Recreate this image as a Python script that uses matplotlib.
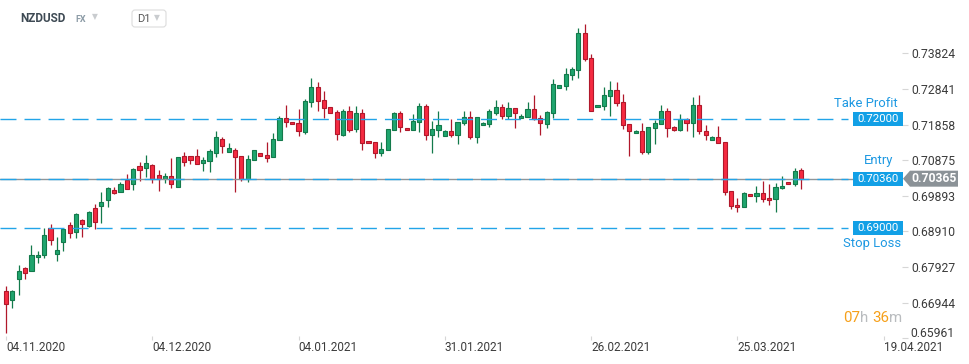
import matplotlib
matplotlib.use('Agg')
import matplotlib.pyplot as plt
import matplotlib.transforms as mtransforms
from matplotlib.patches import Polygon, FancyBboxPatch, Rectangle
import numpy as np

plt.rcParams['font.family'] = ['Roboto', 'DejaVu Sans']
plt.rcParams['lines.scale_dashes'] = False

# ---------------- data ----------------
symbol = 'NZDUSD'
market = 'FX'
timeframe = 'D1'

opens = [0.67258, 0.67010, 0.67605, 0.67901, 0.67810, 0.68196, 0.68251, 0.68996, 0.68295, 0.68626,
         0.69079, 0.68886, 0.69225, 0.69068, 0.69556, 0.69603, 0.69768, 0.70044, 0.69989, 0.70320,
         0.70210, 0.70706, 0.70651, 0.70734, 0.70458, 0.70348, 0.70431, 0.70127, 0.70982, 0.70982,
         0.70982, 0.70789, 0.70844, 0.71065, 0.71451, 0.71093, 0.71148, 0.70982, 0.70348, 0.70880,
         0.71082, 0.71010, 0.70955, 0.71424, 0.72031, 0.71920, 0.71893, 0.71661, 0.72472, 0.72886,
         0.72527, 0.72334, 0.72205, 0.71578, 0.72224, 0.71727, 0.72169, 0.71396, 0.71369, 0.71065,
         0.71148, 0.71700, 0.72169, 0.71755, 0.71700, 0.71920, 0.72362, 0.71562, 0.71700, 0.71534,
         0.71672, 0.71562, 0.71893, 0.72058, 0.71507, 0.71838, 0.71865, 0.72169, 0.72334, 0.72086,
         0.72307, 0.72031, 0.72058, 0.72279, 0.72031, 0.71865, 0.72169, 0.72858, 0.72914, 0.73217,
         0.73355, 0.74376, 0.73686, 0.72334, 0.72362, 0.72638, 0.72803, 0.72472, 0.71865, 0.71617,
         0.71672, 0.71093, 0.71755, 0.71865, 0.72224, 0.71782, 0.71700, 0.72003, 0.71893, 0.72389,
         0.71672, 0.71424, 0.71507, 0.71369, 0.70017, 0.69631, 0.69575, 0.69934, 0.69879, 0.69962,
         0.69824, 0.69796, 0.70100, 0.70265, 0.70210, 0.70596]
highs = [0.67404, 0.67294, 0.67975, 0.67937, 0.68527, 0.68361, 0.69004, 0.69115, 0.68756, 0.68990,
         0.69170, 0.69418, 0.69253, 0.69473, 0.69666, 0.69997, 0.70127, 0.70127, 0.70273, 0.70494,
         0.70660, 0.70817, 0.71018, 0.70770, 0.70604, 0.70513, 0.70935, 0.70955, 0.71101, 0.70982,
         0.71184, 0.70955, 0.71175, 0.71680, 0.71515, 0.71341, 0.71203, 0.70982, 0.71018, 0.71148,
         0.71082, 0.71377, 0.71617, 0.72094, 0.72398, 0.71920, 0.72287, 0.72555, 0.73134, 0.73024,
         0.72784, 0.72334, 0.72260, 0.72287, 0.72370, 0.72370, 0.72287, 0.71396, 0.71369, 0.71369,
         0.71727, 0.72196, 0.72232, 0.71755, 0.72141, 0.72445, 0.72417, 0.71948, 0.72224, 0.71700,
         0.72003, 0.71920, 0.72224, 0.72224, 0.72058, 0.71920, 0.72279, 0.72536, 0.72417, 0.72472,
         0.72307, 0.72141, 0.72472, 0.72665, 0.72114, 0.72224, 0.73107, 0.72941, 0.73410, 0.73438,
         0.74514, 0.74624, 0.73796, 0.72389, 0.72886, 0.73052, 0.73024, 0.72693, 0.71865, 0.71700,
         0.71893, 0.71782, 0.71984, 0.72398, 0.72307, 0.71810, 0.72141, 0.72031, 0.72618, 0.72674,
         0.71838, 0.71534, 0.71810, 0.71369, 0.70017, 0.69824, 0.69989, 0.69934, 0.70155, 0.70293,
         0.70210, 0.70237, 0.70431, 0.70265, 0.70651, 0.70651]
lows = [0.66116, 0.66789, 0.67164, 0.67589, 0.67810, 0.68047, 0.68177, 0.68544, 0.68102, 0.68370,
        0.68728, 0.68737, 0.68756, 0.69032, 0.68968, 0.69150, 0.69592, 0.69934, 0.69989, 0.70072,
        0.70061, 0.70309, 0.70420, 0.70254, 0.70033, 0.70237, 0.70100, 0.70127, 0.70723, 0.70778,
        0.70762, 0.70585, 0.70541, 0.70971, 0.71082, 0.71093, 0.70006, 0.70293, 0.70282, 0.70880,
        0.70982, 0.70833, 0.70955, 0.71424, 0.71799, 0.71865, 0.71534, 0.71606, 0.72351, 0.72240,
        0.72047, 0.72169, 0.71432, 0.71551, 0.71661, 0.71661, 0.71164, 0.71341, 0.70944, 0.70999,
        0.71148, 0.71700, 0.71661, 0.71700, 0.71700, 0.71661, 0.71440, 0.71065, 0.71507, 0.71534,
        0.71523, 0.71330, 0.71838, 0.71451, 0.71358, 0.71838, 0.71782, 0.72114, 0.72003, 0.72003,
        0.71755, 0.72031, 0.72058, 0.71976, 0.71562, 0.71755, 0.72031, 0.72858, 0.72803, 0.73079,
        0.73134, 0.73603, 0.72224, 0.72334, 0.72251, 0.72086, 0.72362, 0.71727, 0.70982, 0.71617,
        0.71038, 0.71038, 0.71313, 0.71865, 0.71507, 0.71672, 0.71672, 0.71672, 0.71507, 0.71589,
        0.71424, 0.71424, 0.71341, 0.69906, 0.69537, 0.69437, 0.69575, 0.69879, 0.69713, 0.69713,
        0.69631, 0.69437, 0.70072, 0.70210, 0.70155, 0.70072]
closes = [0.66899, 0.67266, 0.67810, 0.67754, 0.68251, 0.68251, 0.68803, 0.68665, 0.68389, 0.68968,
          0.68875, 0.69391, 0.69123, 0.69446, 0.69161, 0.69722, 0.70100, 0.69978, 0.70210, 0.70072,
          0.70624, 0.70596, 0.70789, 0.70364, 0.70356, 0.70431, 0.70210, 0.70955, 0.70817, 0.70872,
          0.70762, 0.70880, 0.71120, 0.71507, 0.71258, 0.71203, 0.70955, 0.70364, 0.70900, 0.71148,
          0.70982, 0.70944, 0.71451, 0.72031, 0.71920, 0.71865, 0.71672, 0.72500, 0.72886, 0.72500,
          0.72307, 0.72169, 0.71589, 0.72224, 0.71716, 0.72169, 0.71341, 0.71341, 0.71065, 0.71175,
          0.71727, 0.72169, 0.71782, 0.71700, 0.71948, 0.72362, 0.71562, 0.71727, 0.71838, 0.71672,
          0.71562, 0.71920, 0.72058, 0.71507, 0.72058, 0.71893, 0.72224, 0.72334, 0.72086, 0.72307,
          0.72169, 0.72086, 0.72279, 0.72003, 0.71893, 0.72196, 0.72969, 0.72941, 0.73245, 0.73383,
          0.74376, 0.73658, 0.72224, 0.72389, 0.72665, 0.72803, 0.72445, 0.71838, 0.71672, 0.71672,
          0.71093, 0.71782, 0.71893, 0.72224, 0.71755, 0.71700, 0.72003, 0.71893, 0.72389, 0.71672,
          0.71562, 0.71507, 0.71341, 0.69989, 0.69603, 0.69575, 0.69962, 0.69879, 0.69962, 0.69796,
          0.69768, 0.70127, 0.70155, 0.70210, 0.70569, 0.70365]

date_tick_index = [0, 23, 46, 69, 92, 115, 138]
date_labels = ['04.11.2020', '04.12.2020', '04.01.2021', '31.01.2021',
               '26.02.2021', '25.03.2021', '19.04.2021']
price_ticks = [0.73824, 0.72841, 0.71858, 0.70875, 0.69893, 0.68910, 0.67927, 0.66944, 0.65961]

take_profit = 0.72000
entry = 0.70360
stop_loss = 0.69000
last_price = 0.70365
levels = [(take_profit, 'Take Profit', '0.72000'),
          (entry, 'Entry', '0.70360'),
          (stop_loss, 'Stop Loss', '0.69000')]
countdown = [('07', 'orange'), ('h ', 'grey'), ('36', 'orange'), ('m', 'grey')]

# ---------------- style ----------------
W, H = 970, 364
GREEN_F, GREEN_E = '#1fa56e', '#137a4b'
RED_F, RED_E = '#f52a41', '#b0182b'
BLUE = '#22a4e8'
BLUE_TXT = '#1c98e2'
GREY_TAG = '#8b9297'
TXT = '#3b3b3b'
ORANGE = '#f6a01a'
LGREY = '#b9bcbf'

fig = plt.figure(figsize=(W / 100, H / 100), dpi=100)
ax_left, ax_right, ax_top, ax_bot = 0, 902, 20, 340
ax = fig.add_axes([ax_left / W, (H - ax_bot) / H, (ax_right - ax_left) / W, (ax_bot - ax_top) / H])

step = 6.36
ax.set_xlim(-6 / step, (ax_right - 6) / step)
ax.set_ylim(0.65914, 0.74743)

o, h, l, c = map(np.array, (opens, highs, lows, closes))
x = np.arange(len(o))
up = c >= o
fill = np.where(up, GREEN_F, RED_F)
edge = np.where(up, GREEN_E, RED_E)
ax.vlines(x, l, h, colors=edge, lw=0.9, zorder=2)
ax.bar(x, np.maximum(np.abs(c - o), 0.00004), bottom=np.minimum(o, c), width=0.66,
       color=fill, edgecolor=edge, linewidth=0.8, zorder=3)

# current-price line and order levels
ax.axhline(last_price, color='#8e969b', lw=1.0, zorder=4)
for lvl, _, _ in levels:
    ax.axhline(lvl, xmin=0, xmax=848 / ax_right, color=BLUE, lw=1.0,
               dashes=(11.5, 5.8), zorder=5)

for s in ax.spines.values():
    s.set_visible(False)

ax.yaxis.tick_right()
ax.set_yticks(price_ticks)
# the lowest label sits a little higher (as in the reference) so it does not touch the dates
ax.set_yticklabels([f'{v:.5f}' for v in price_ticks[:-1]] + [''])
ax.tick_params(axis='y', length=4, width=0.8, color='#d6d6d6', pad=3,
               labelsize=8.7, labelcolor=TXT)
ax.set_xticks(date_tick_index)
ax.set_xticklabels(date_labels)
ax.tick_params(axis='x', length=3, direction='in', width=0.8, color='#d6d6d6', pad=1,
               labelsize=8.5, labelcolor=TXT)
for lbl in ax.get_xticklabels():
    lbl.set_horizontalalignment('left')

ident = mtransforms.IdentityTransform()


def ypx(v):
    return ax.transData.transform((0, v))[1]


fig.text(910 / W, (ypx(price_ticks[-1]) + 5) / H, f'{price_ticks[-1]:.5f}', ha='left',
         va='center', color=TXT, fontsize=8.7)

# blue level boxes + captions
caption_right = {'Take Profit': 898, 'Entry': 893, 'Stop Loss': 901}
caption_dy = {'Take Profit': 15.5, 'Entry': 18.5, 'Stop Loss': -15.5}
for lvl, name, txt in levels:
    yc = ypx(lvl)
    fig.add_artist(Rectangle((853, yc - 7), 50, 14, transform=ident,
                             facecolor='#12a0e6', edgecolor='none', zorder=6))
    fig.text(878 / W, yc / H, txt, ha='center', va='center', color='white',
             fontsize=8.2, zorder=7)
    fig.text(caption_right[name] / W, (yc + caption_dy[name]) / H, name,
             ha='right', va='center', color=BLUE_TXT, fontsize=9.4)

# grey last-price tag
yc = ypx(last_price)
tag = Polygon([(903, yc), (910, yc + 8), (958, yc + 8), (958, yc - 8), (910, yc - 8)],
              closed=True, transform=ident, facecolor=GREY_TAG, edgecolor='none', zorder=6)
fig.add_artist(tag)
fig.text(934 / W, yc / H, f'{last_price:.5f}', ha='center', va='center',
         color='white', fontsize=8.7, fontweight='bold', zorder=7)

# countdown (coloured pieces chained one after another)
prev_art = fig.text(843 / W, (H - 318) / H, countdown[0][0], ha='left', va='center',
                    color=ORANGE, fontsize=10.8)
for txt, col in countdown[1:]:
    prev_art = ax.annotate(txt, xy=(1, 0.5), xycoords=prev_art, va='center', ha='left',
                           color=ORANGE if col == 'orange' else LGREY, fontsize=10.8,
                           annotation_clip=False)

# header
fig.text(20 / W, 1 - 18 / H, symbol, ha='left', va='center', color='#3e4a54',
         fontsize=8.5, fontweight='bold')
fig.text(75 / W, 1 - 19 / H, market, ha='left', va='center', color='#8c9ba6',
         fontsize=6.5, fontweight='bold')
fig.text(95 / W, 1 - 17 / H, '▼', ha='center', va='center', color='#c9cccf',
         fontsize=5.5, family=['DejaVu Sans'])
fig.add_artist(FancyBboxPatch((132, H - 27), 34, 17, boxstyle='round,pad=0,rounding_size=3',
                              transform=ident, facecolor='white', edgecolor='#dcdcdc', lw=0.8))
fig.text(137 / W, 1 - 18.5 / H, timeframe, ha='left', va='center', color='#555555',
         fontsize=8)
fig.text(157 / W, 1 - 18 / H, '▼', ha='center', va='center', color='#c9cccf',
         fontsize=5.5, family=['DejaVu Sans'])

fig.savefig('out.png', dpi=100)
